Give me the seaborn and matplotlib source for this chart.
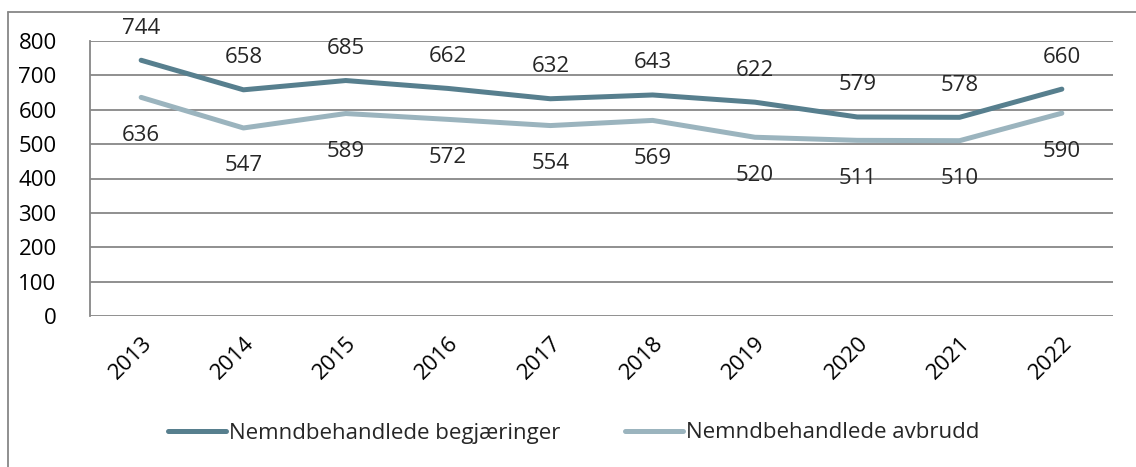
import pandas as pd
import matplotlib.pyplot as plt
from matplotlib.lines import Line2D
import seaborn as sns

years = ['2013', '2014', '2015', '2016', '2017', '2018', '2019', '2020', '2021', '2022']
begjaeringer = [744, 658, 685, 662, 632, 643, 622, 579, 578, 660]
avbrudd = [636, 547, 589, 572, 554, 569, 520, 511, 510, 590]
series_names = ['Nemndbehandlede begjæringer', 'Nemndbehandlede avbrudd']
colors = ['#577F8E', '#9BB4BE']

df = pd.concat([
    pd.DataFrame({'year': years, 'value': begjaeringer, 'serie': series_names[0]}),
    pd.DataFrame({'year': years, 'value': avbrudd, 'serie': series_names[1]}),
])

sns.set_style('white')
plt.rcParams['font.family'] = ['Open Sans', 'DejaVu Sans']
fs = 16

fig = plt.figure(figsize=(11.36, 4.67), dpi=100)
ax = fig.add_axes([90 / 1136, 1 - 316 / 467, (1113 - 90) / 1136, 275 / 467])

sns.lineplot(data=df, x='year', y='value', hue='serie', palette=colors,
             linewidth=3.6, ax=ax, sort=False, solid_capstyle='round')

ax.set_xlim(-0.5, len(years) - 0.5)
ax.set_ylim(0, 800)
ax.set_yticks(range(0, 801, 100))
ax.yaxis.grid(True, color='#878787', linewidth=1.3)
ax.set_axisbelow(True)
for s in ['top', 'right', 'bottom']:
    ax.spines[s].set_visible(False)
ax.spines['left'].set_color('#878787')
ax.spines['left'].set_linewidth(1.3)
ax.tick_params(axis='both', length=0, labelsize=fs, colors='black')
ax.tick_params(axis='y', pad=24)
ax.set_xlabel('')
ax.set_ylabel('')
plt.setp(ax.get_xticklabels(), rotation=45, ha='right', rotation_mode='anchor')
ax.tick_params(axis='x', pad=12)

for i, v in enumerate(begjaeringer):
    ax.annotate(str(v), (i, v), xytext=(0, 32), textcoords='offset pixels',
                ha='center', va='center', fontsize=fs)
for i, v in enumerate(avbrudd):
    ax.annotate(str(v), (i, v), xytext=(0, -38), textcoords='offset pixels',
                ha='center', va='center', fontsize=fs)

ax.legend(loc='center', bbox_to_anchor=(0.505, 1 - 433 / 467), bbox_transform=fig.transFigure,
          ncol=2, frameon=False, fontsize=fs, handlelength=2.6, handletextpad=0.15,
          columnspacing=2.9)

fig.add_artist(Line2D([8 / 1136, 8 / 1136], [0, 1 - 12 / 467], color='#878787', linewidth=1.3))
fig.add_artist(Line2D([8 / 1136, 1], [1 - 12 / 467, 1 - 12 / 467], color='#878787', linewidth=1.3))

fig.savefig('out.png', dpi=100)
